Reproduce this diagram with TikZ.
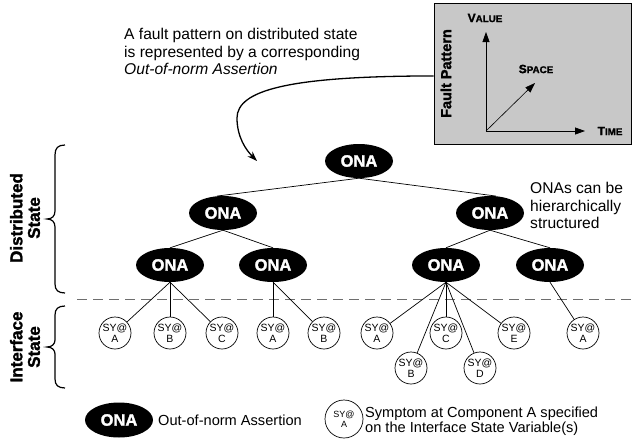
\documentclass[tikz,border=0pt]{standalone}
\usepackage{fontspec}
\setmainfont{Liberation Sans}
\newfontfamily\heavyfont[FakeBold=1.6]{Liberation Sans}
\usetikzlibrary{arrows.meta,shapes.geometric}
\definecolor{boxgray}{RGB}{200,200,200}
\definecolor{dashgray}{RGB}{110,110,110}
\newcommand{\fsc}[2]{{\fontsize{12}{14}\selectfont #1}{\fontsize{9.8}{12}\selectfont #2}}
\tikzset{
  ona/.style={ellipse, fill=black, minimum width=68pt, minimum height=34pt,
    inner sep=0pt, text=white, font=\heavyfont\bfseries\fontsize{16.5}{19}\selectfont},
  sym/.style={circle, draw, line width=0.7pt, minimum size=32pt, inner sep=0pt,
    align=center, font=\fontsize{10.5}{11}\selectfont},
  link/.style={line width=0.7pt},
  bracepath/.style={line width=1.2pt},
  sidelabel/.style={rotate=90, align=center, font=\heavyfont\bfseries\fontsize{17}{17.5}\selectfont},
  note/.style={align=left, inner sep=0pt, font=\fontsize{15.6}{17.5}\selectfont},
  axis/.style={line width=0.8pt, -{Triangle[length=10pt,width=7pt]}},
  axlabel/.style={inner sep=0pt, font=\heavyfont\bfseries},
}
\begin{document}
\begin{tikzpicture}[x=1pt,y=-1pt]
\useasboundingbox (0,0) rectangle (633,440);

% fault pattern panel
\node[draw, fill=boxgray, line width=0.8pt, minimum width=197pt, minimum height=141pt] (fp) at (532.5,73.5) {};
\node[sidelabel, font=\heavyfont\bfseries\fontsize{14.5}{15}\selectfont] (fplab) at (446,73.5) {Fault Pattern};
\coordinate (o) at (486,131);
\coordinate (vtop) at (486,32);
\coordinate (tend) at (585,131);
\coordinate (send) at (535,83);
\draw[axis] (o) -- (vtop);
\draw[axis] (o) -- (tend);
\draw[line width=0.6pt, -{Triangle[length=10pt,width=7pt]}] (o) -- (send);
\node[axlabel] (vlab) at (485,18) {\fsc{V}{ALUE}};
\node[axlabel] (slab) at (536,69) {\fsc{S}{PACE}};
\node[axlabel] (tlab) at (610,131) {\fsc{T}{IME}};

% annotations
\node[note, anchor=north west] (top) at (124,28) {A fault pattern on distributed state\\is represented by a corresponding\\\itshape Out-of-norm Assertion};
\node[note, anchor=north west] (hier) at (530,182) {ONAs can be\\hierarchically\\structured};

% curved pointer from the panel
\coordinate (tip) at (257,161);
\draw[line width=1.3pt, -{Stealth[length=10pt,width=7pt]}]
  ([yshift=-2.5pt]fp.west) -- ++(-14,0)
  .. controls (290,77) and (237,90) .. (237,118)
  .. controls (237,137) and (246,150) .. (tip);

% boundary between distributed and interface state
\draw[dashgray, line width=0.9pt, dash pattern=on 10pt off 6pt] (77,299) -- (633,299);

% ONA hierarchy
\node[ona] (r) at (359,161) {ONA};
\node[ona] (a) at (223,213) {ONA};
\node[ona] (b) at (490,213) {ONA};
\node[ona] (a1) at (170,265) {ONA};
\node[ona] (a2) at (273,265) {ONA};
\node[ona] (b1) at (446,265) {ONA};
\node[ona] (b2) at (550,265) {ONA};
\draw[link] (r.south) -- (a.110);
\draw[link] (r.south) -- (b.70);
\draw[link] (a.south) -- (a1.north);
\draw[link] (a.south) -- (a2.north);
\draw[link] (b.south) -- (b1.north);
\draw[link] (b.south) -- (b2.north);

% symptoms
\node[sym] (s1) at (115,333) {SY@\\A};
\node[sym] (s2) at (170,333) {SY@\\B};
\node[sym] (s3) at (222,333) {SY@\\C};
\node[sym] (s4) at (273,333) {SY@\\A};
\node[sym] (s5) at (324,333) {SY@\\B};
\node[sym] (s6) at (377,333) {SY@\\A};
\node[sym] (s7) at (411,368) {SY@\\B};
\node[sym] (s8) at (446,333) {SY@\\C};
\node[sym] (s9) at (480,368) {SY@\\D};
\node[sym] (s10) at (514,333) {SY@\\E};
\node[sym] (s11) at (583,333) {SY@\\A};
\foreach \s in {s1,s2,s3} \draw[link] (a1.south) -- (\s);
\foreach \s in {s4,s5} \draw[link] (a2.south) -- (\s);
\foreach \s in {s6,s7,s8,s9,s10} \draw[link] (b1.south) -- (\s);
\draw[link] (b2.south) -- (s11);

% braces and side labels
\draw[bracepath] (65,145) .. controls (58,145) and (55,148) .. (55,155) -- (55,211)
  .. controls (55,216) and (52,219) .. (47,219) .. controls (52,219) and (55,222) .. (55,227)
  -- (55,284) .. controls (55,290) and (58,293) .. (65,293);
\draw[bracepath] (65,306) .. controls (58,306) and (55,309) .. (55,315) -- (55,340)
  .. controls (55,344) and (52,347) .. (47,347) .. controls (52,347) and (55,350) .. (55,354)
  -- (55,379) .. controls (55,385) and (58,388) .. (65,388);
\node[sidelabel] (dist) at (25,218) {Distributed\\State};
\node[sidelabel] (intf) at (25,347) {Interface\\State};

% legend
\node[ona, minimum height=35pt] (lona) at (119,420) {ONA};
\node[note, anchor=base west, font=\fontsize{14.6}{15}\selectfont] (lonatxt) at (158,425) {Out-of-norm Assertion};
\node[sym, minimum size=38pt, font=\fontsize{9}{10.5}\selectfont] (lsym) at (344,419) {SY@\\A};
\node[note, anchor=north west, font=\fontsize{14.6}{15}\selectfont] (lsymtxt) at (365,407) {Symptom at Component A specified\\on the Interface State Variable(s)};
\end{tikzpicture}
\end{document}
